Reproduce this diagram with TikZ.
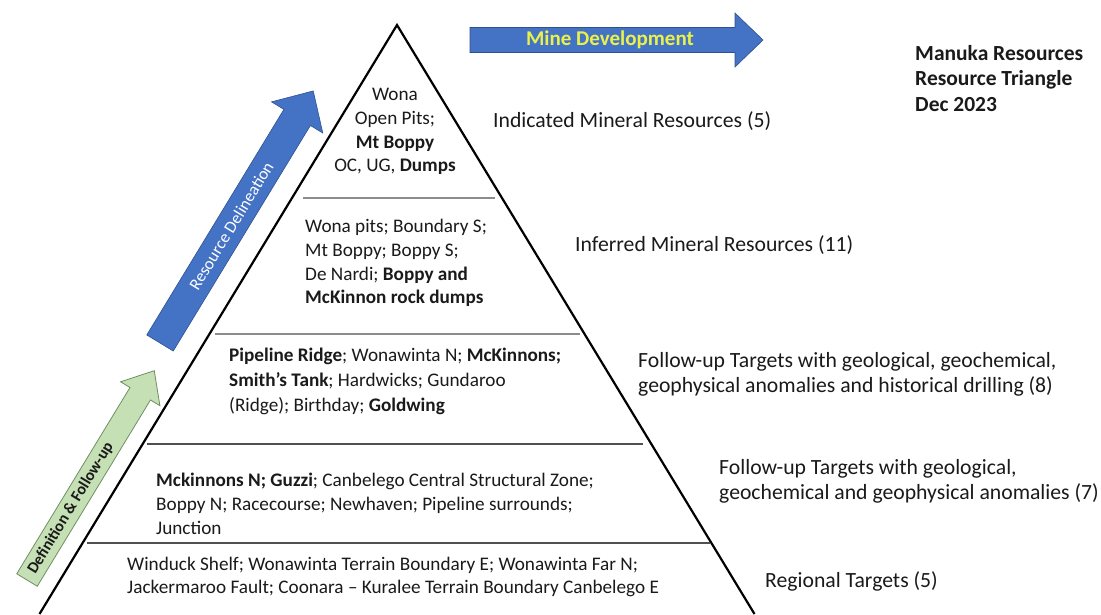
\documentclass[tikz,border=0pt]{standalone}
\usepackage{fontspec}
\setmainfont{Carlito}
\definecolor{office}{HTML}{4472C4}
\definecolor{officeedge}{HTML}{2F528F}
\definecolor{lgreen}{HTML}{C5E0B4}
\definecolor{gedge}{HTML}{6F8F62}
\definecolor{myellow}{HTML}{EAF24A}
\definecolor{divlight}{HTML}{8C8C8C}
\definecolor{divdark}{HTML}{505050}
\definecolor{txt}{HTML}{1A1A1A}
\begin{document}
\begin{tikzpicture}[x=1pt,y=-1pt,
  inner/.style={font=\fontsize{19.2}{23.8}\selectfont, text=txt, inner sep=0pt, align=left, anchor=west},
  innerc/.style={inner, align=center, anchor=center},
  lbl/.style={font=\fontsize{21.7}{25.5}\selectfont, text=txt, inner sep=0pt, align=left, anchor=west},
  divider/.style={line width=1.1pt, draw=#1},
  bluearrow/.style={fill=office, draw=officeedge, line width=0.6pt},
  greenarrow/.style={fill=lgreen, draw=gedge, line width=0.8pt}]
\useasboundingbox (0,0) rectangle (1101,614);
\fill[white] (0,0) rectangle (1101,614);

% triangle
\coordinate (apex) at (397,25);
\coordinate (bl) at (39.5,614);
\coordinate (br) at (754.5,614);
\draw[line width=2.2pt, line join=miter] (bl) -- (apex) -- (br);

% dividers
\coordinate (d1l) at (303,198); \coordinate (d1r) at (495,198);
\coordinate (d2l) at (215,334); \coordinate (d2r) at (580,334);
\coordinate (d3l) at (147,444); \coordinate (d3r) at (643,444);
\coordinate (d4l) at (87,543);  \coordinate (d4r) at (710,543);
\draw[divider=divlight] (d1l) -- (d1r);
\draw[divider=divlight] (d2l) -- (d2r);
\draw[divider=divdark] (d3l) -- (d3r);
\draw[divider=divdark] (d4l) -- (d4r);

% texts inside the triangle
\node[innerc] (t1) at (395,131.5) {Wona\\Open Pits;\\\textbf{Mt Boppy}\\OC, UG, \textbf{Dumps}};
\node[inner] (t2) at (305,263) {Wona pits; Boundary S;\\Mt Boppy; Boppy S;\\De Nardi; \textbf{Boppy and}\\\textbf{McKinnon rock dumps}};
\node[inner, font=\fontsize{19.2}{25}\selectfont] (t3) at (229,381) {\textbf{Pipeline Ridge}; Wonawinta N; \textbf{McKinnons;}\\\textbf{Smith’s Tank}; Hardwicks; Gundaroo\\(Ridge); Birthday; \textbf{Goldwing}};
\node[inner] (t4) at (156,504) {\textbf{Mckinnons N; Guzzi}; Canbelego Central Structural Zone;\\Boppy N; Racecourse; Newhaven; Pipeline surrounds;\\Junction};
\node[inner] (t5) at (127,577) {Winduck Shelf; Wonawinta Terrain Boundary E; Wonawinta Far N;\\Jackermaroo Fault; Coonara – Kuralee Terrain Boundary Canbelego E};

% labels to the right
\node[lbl] (l1) at (493,121) {Indicated Mineral Resources (5)};
\node[lbl] (l2) at (575,245) {Inferred Mineral Resources (11)};
\node[lbl] (l3) at (638,374.5) {Follow-up Targets with geological, geochemical,\\geophysical anomalies and historical drilling (8)};
\node[lbl] (l4) at (719,481.5) {Follow-up Targets with geological,\\geochemical and geophysical anomalies (7)};
\node[lbl] (l5) at (765,581) {Regional Targets (5)};

% title
\node[lbl, font=\bfseries\fontsize{21.5}{25.5}\selectfont] (title) at (915,78.5) {Manuka Resources\\Resource Triangle\\Dec 2023};

% Mine Development arrow
\filldraw[bluearrow] (470,27.5) -- (735,27.5) -- (735,13) -- (763,40) -- (735,67) -- (735,52.5) -- (470,52.5) -- cycle;
\node[font=\bfseries\fontsize{21}{23}\selectfont, text=myellow, inner sep=0pt] (mine) at (610,40) {Mine Development};

% Resource Delineation arrow
\begin{scope}[shift={(160,343)}, rotate=58.7]
\filldraw[bluearrow] (0,-15.5) -- (264,-15.5) -- (264,-30) -- (295,0) -- (264,30) -- (264,15.5) -- (0,15.5) -- cycle;
\node[transform shape, text=white, font=\fontsize{17}{18}\selectfont, inner sep=0pt] (rdlabel) at (137,0) {Resource Delineation};
\end{scope}

% Definition & Follow-up arrow
\begin{scope}[shift={(27,580)}, rotate=58.7]
\filldraw[greenarrow] (0,-12) -- (218,-12) -- (218,-23) -- (245,0) -- (218,23) -- (218,12) -- (0,12) -- cycle;
\node[transform shape, text=txt, font=\bfseries\fontsize{16}{17}\selectfont, inner sep=0pt] (dflabel) at (84,0) {Definition \& Follow-up};
\end{scope}
\end{tikzpicture}
\end{document}
